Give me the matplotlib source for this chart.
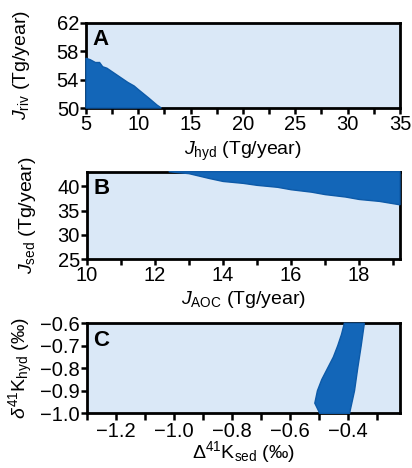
import numpy as np
import matplotlib
matplotlib.use("Agg")
import matplotlib.pyplot as plt
from matplotlib.ticker import MultipleLocator

plt.rcParams['font.family'] = ['Liberation Sans', 'DejaVu Sans']
plt.rcParams['mathtext.fontset'] = 'custom'
plt.rcParams['mathtext.rm'] = 'Liberation Sans'
plt.rcParams['mathtext.it'] = 'Liberation Sans:italic'
plt.rcParams['mathtext.bf'] = 'Liberation Sans:bold'

# outline of the accepted-solution cloud in each panel
a_x = [5.0, 5.0, 5.4, 5.9, 6.3, 6.6, 7.0, 7.6, 8.0, 8.6, 9.0, 9.6, 10.0, 10.5, 11.0, 11.4, 11.8, 12.2, 5.0]
a_y = [50.0, 57.0, 56.8, 56.4, 56.4, 55.8, 55.6, 55.0, 54.6, 54.0, 53.6, 53.1, 52.6, 52.0, 51.4, 50.9, 50.4, 50.0, 50.0]

b_x = [12.4, 13.0, 13.6, 14.0, 14.6, 15.0, 15.6, 16.0, 16.6, 17.0, 17.6, 18.0, 18.6, 19.2, 19.2, 12.4]
b_y = [43.0, 42.6, 41.6, 41.0, 40.6, 40.2, 39.8, 39.3, 38.8, 38.3, 37.8, 37.3, 36.9, 36.2, 43.0, 43.0]

c_x = [-0.497, -0.514, -0.505, -0.49, -0.47, -0.45, -0.435, -0.422, -0.412, -0.343, -0.354, -0.366, -0.377, -0.394, -0.497]
c_y = [-1.0, -0.955, -0.9, -0.85, -0.8, -0.75, -0.7, -0.65, -0.6, -0.6, -0.7, -0.8, -0.9, -1.0, -1.0]

bg = '#dae8f7'
dot = '#1366b8'

fig = plt.figure(figsize=(4.12, 4.68), dpi=100)
axA = fig.add_axes([0.2087, 0.7692, 0.762, 0.1823])
axB = fig.add_axes([0.2112, 0.4459, 0.7597, 0.1872])
axC = fig.add_axes([0.2112, 0.1169, 0.7597, 0.1923])

for ax, xs, ys in [(axA, a_x, a_y), (axB, b_x, b_y), (axC, c_x, c_y)]:
    ax.set_facecolor(bg)
    ax.fill(xs, ys, color=dot, edgecolor='#0d5aa8', linewidth=1.0, zorder=3, clip_on=False)
    for s in ax.spines.values():
        s.set_linewidth(2.0)
        s.set_zorder(2.5)
    ax.tick_params(which='both', direction='out', width=1.8, labelsize=14.5, pad=1)
    ax.tick_params(which='both', length=4)

axA.set_xlim(5, 35)
axA.set_ylim(50, 62)
axA.set_xticks([5, 10, 15, 20, 25, 30, 35])
axA.xaxis.set_minor_locator(MultipleLocator(2.5))
axA.set_yticks([50, 54, 58, 62])
axA.set_xlabel(r'$J_{\rm hyd}$ (Tg/year)', fontsize=14, labelpad=4)
axA.set_ylabel(r'$J_{\rm riv}$ (Tg/year)', fontsize=14, labelpad=18)
axA.text(0.02, 0.93, 'A', transform=axA.transAxes, fontsize=16, fontweight='bold', va='top')

axB.set_xlim(10, 19.2)
axB.set_ylim(25, 43)
axB.set_xticks([10, 12, 14, 16, 18])
axB.xaxis.set_minor_locator(MultipleLocator(1))
axB.set_yticks([25, 30, 35, 40])
axB.set_xlabel(r'$J_{\rm AOC}$ (Tg/year)', fontsize=14, labelpad=3)
axB.set_ylabel(r'$J_{\rm sed}$ (Tg/year)', fontsize=14, labelpad=14)
axB.text(0.02, 0.93, 'B', transform=axB.transAxes, fontsize=16, fontweight='bold', va='top')

axC.set_xlim(-1.3, -0.22)
axC.set_ylim(-1.0, -0.6)
axC.set_xticks([-1.2, -1.0, -0.8, -0.6, -0.4])
axC.set_xticklabels(['\u22121.2', '\u22121.0', '\u22120.8', '\u22120.6', '\u22120.4'])
axC.xaxis.set_minor_locator(MultipleLocator(0.1))
axC.set_yticks([-1.0, -0.9, -0.8, -0.7, -0.6])
axC.set_yticklabels(['\u22121.0', '\u22120.9', '\u22120.8', '\u22120.7', '\u22120.6'])
axC.tick_params(axis='x', which='both', length=5, pad=1)
axC.set_xlabel(r'$\Delta^{41}$K$_{\rm sed}$ (‰)', fontsize=14, labelpad=-1)
axC.set_ylabel(r'$\delta^{41}$K$_{\rm hyd}$ (‰)', fontsize=14, labelpad=4)
axC.text(0.02, 0.93, 'C', transform=axC.transAxes, fontsize=16, fontweight='bold', va='top')

fig.savefig('out.png', dpi=100)
